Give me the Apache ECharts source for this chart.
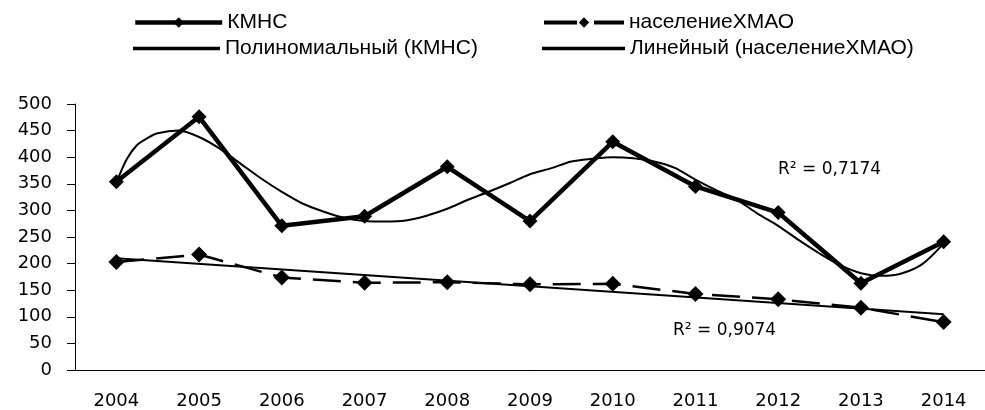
<!DOCTYPE html>
<html>
<head>
<meta charset="utf-8">
<script src="https://cdn.jsdelivr.net/npm/echarts@6/dist/echarts.min.js"></script>
<style>
  html, body { margin: 0; padding: 0; background: #fff; }
  #chart { width: 985px; height: 410px; }
</style>
</head>
<body>
<div id="chart"></div>
<script>
// years on the axis
const years = ['2004', '2005', '2006', '2007', '2008', '2009', '2010', '2011', '2012', '2013', '2014'];
// КМНС
const kmns = [354, 476, 271, 289, 382, 280, 429, 345, 296, 163, 241];
// население ХМАО
const population = [203, 217, 174, 164, 165, 161, 162, 143, 133, 117, 90];
// polynomial trend (x = year index)
const polyX = [0, 0.125, 0.25, 0.375, 0.5, 0.75, 1, 1.25, 1.5, 1.75, 2, 2.25, 2.5, 2.75, 3, 3.25, 3.5, 3.75, 4, 4.25, 4.5, 4.75, 5,
  5.25, 5.5, 5.75, 6, 6.25, 6.5, 6.75, 7, 7.25, 7.5, 7.75, 8, 8.25, 8.5, 8.75, 9, 9.25, 9.5, 9.75, 10];
const polyY = [352, 396, 423, 436, 445, 450, 438, 416, 388, 360, 335, 313, 298, 286, 280, 279, 281, 290, 303, 320, 335, 351, 368,
  379, 392, 397, 400, 398, 392, 380, 358, 338, 320, 294, 271, 244, 219, 197, 182, 177, 182, 200, 238];
// linear trend end points
const linX = [0, 10];
const linY = [210, 105];
const yTicks = { min: 0, max: 500, step: 50 };

const labelFont = 'DejaVu Sans';
const legendFont = '"Liberation Sans", Arial, sans-serif';

const chart = echarts.init(document.getElementById('chart'));

const legendBase = {
  orient: 'horizontal',
  padding: 0,
  itemHeight: 13,
  itemGap: 5,
  selectedMode: false,
  textStyle: { fontFamily: legendFont, fontSize: 21, color: '#000' }
};

const option = {
  backgroundColor: '#fff',
  animation: false,
  legend: [
    Object.assign({}, legendBase, {
      left: 133, top: 12, itemWidth: 87, data: ['КМНС'],
      lineStyle: { width: 4.5 }
    }),
    Object.assign({}, legendBase, {
      left: 542, top: 12, itemWidth: 80, data: ['населениеХМАО'],
      lineStyle: { width: 4, type: [33, 17] }
    }),
    Object.assign({}, legendBase, {
      left: 133, top: 38, itemWidth: 87, itemHeight: 3.5,
      data: [{ name: 'Полиномиальный (КМНС)', icon: 'rect' }]
    }),
    Object.assign({}, legendBase, {
      left: 542, top: 38, itemWidth: 83, itemHeight: 3.5,
      data: [{ name: 'Линейный (населениеХМАО)', icon: 'rect' }]
    })
  ],
  grid: { left: 75, right: -7, top: 104, bottom: 39, containLabel: false },
  xAxis: [
    {
      type: 'category',
      data: years,
      boundaryGap: true,
      axisLine: { lineStyle: { color: '#000', width: 1 } },
      axisTick: { length: 7, lineStyle: { color: '#000' } },
      axisLabel: { color: '#000', fontFamily: labelFont, fontSize: 18, margin: 22 }
    },
    {
      type: 'value',
      min: -0.5,
      max: 10.5,
      show: false
    }
  ],
  yAxis: {
    type: 'value',
    min: yTicks.min,
    max: yTicks.max,
    interval: yTicks.step,
    splitLine: { show: false },
    axisLine: { show: true, onZero: false, lineStyle: { color: '#000', width: 1 } },
    axisTick: { show: true, length: 8, lineStyle: { color: '#000' } },
    axisLabel: { color: '#000', fontFamily: labelFont, fontSize: 18, margin: 23 }
  },
  series: [
    {
      name: 'КМНС',
      type: 'line',
      data: kmns,
      symbol: 'diamond',
      symbolSize: 15,
      itemStyle: { color: '#000' },
      lineStyle: { color: '#000', width: 4.5 },
      z: 4
    },
    {
      name: 'населениеХМАО',
      type: 'line',
      data: population,
      symbol: 'diamond',
      symbolSize: 16,
      itemStyle: { color: '#000' },
      lineStyle: { color: '#000', width: 2.5, type: [28, 12] },
      z: 4
    },
    {
      name: 'Полиномиальный (КМНС)',
      type: 'line',
      xAxisIndex: 1,
      data: polyX.map((x, i) => [x, polyY[i]]),
      smooth: 0.3,
      symbol: 'none',
      itemStyle: { color: '#000' },
      lineStyle: { color: '#000', width: 2 },
      z: 3
    },
    {
      name: 'Линейный (населениеХМАО)',
      type: 'line',
      xAxisIndex: 1,
      data: linX.map((x, i) => [x, linY[i]]),
      symbol: 'none',
      itemStyle: { color: '#000' },
      lineStyle: { color: '#000', width: 2 },
      z: 3
    }
  ],
  graphic: [
    {
      type: 'text',
      left: 778,
      top: 161,
      style: { text: 'R² = 0,7174', font: '17px "DejaVu Sans"', fill: '#000' }
    },
    {
      type: 'text',
      left: 673,
      top: 322,
      style: { text: 'R² = 0,9074', font: '17px "DejaVu Sans"', fill: '#000' }
    }
  ]
};

chart.setOption(option);
</script>
</body>
</html>
